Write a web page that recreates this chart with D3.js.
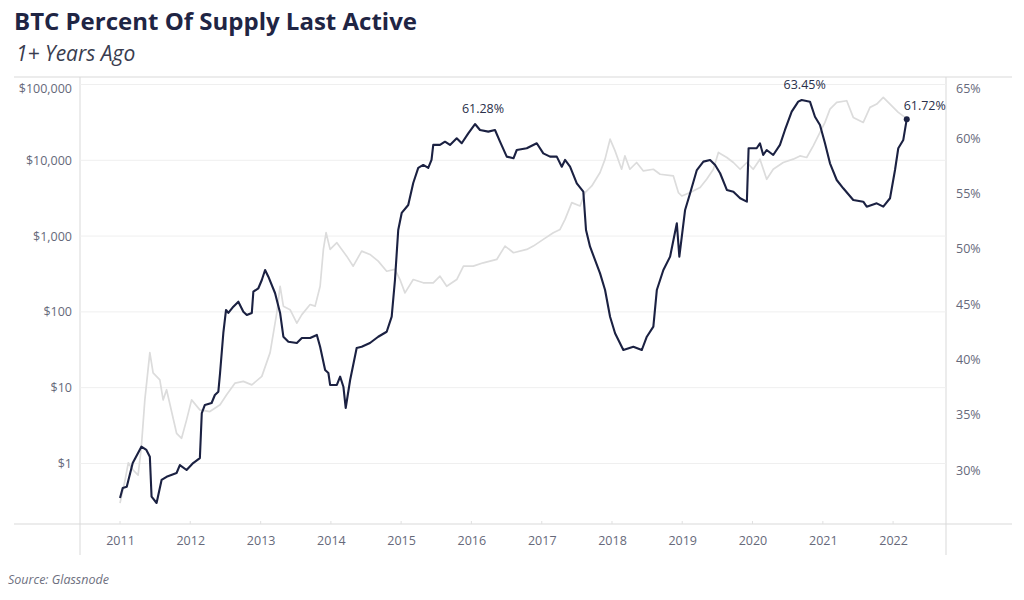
<!DOCTYPE html>
<html><head><meta charset="utf-8">
<script src="https://cdn.jsdelivr.net/npm/d3@7/dist/d3.min.js"></script>
<style>body{margin:0;background:#fff;} svg{display:block;}</style>
</head><body>
<svg id="c" width="1024" height="600"></svg>
<script>
// Percent of BTC supply last active 1+ years ago (%)
const supplyDates = ["2011-01-01","2011-01-15","2011-02-05","2011-03-08","2011-04-22","2011-05-18","2011-06-05","2011-06-14","2011-07-10","2011-08-05","2011-08-31","2011-10-22","2011-11-08","2011-12-13","2012-01-16","2012-02-20","2012-03-01","2012-03-17","2012-04-21","2012-05-08","2012-05-26","2012-06-04","2012-06-21","2012-07-05","2012-07-17","2012-08-12","2012-09-07","2012-10-03","2012-10-21","2012-11-16","2012-11-24","2012-12-20","2013-01-07","2013-01-24","2013-02-10","2013-03-17","2013-04-12","2013-04-29","2013-05-25","2013-07-08","2013-08-03","2013-09-15","2013-10-20","2013-11-06","2013-12-02","2013-12-19","2013-12-28","2014-02-01","2014-02-18","2014-03-07","2014-03-19","2014-04-11","2014-05-15","2014-06-10","2014-07-23","2014-09-04","2014-10-18","2014-11-13","2014-11-30","2014-12-17","2015-01-04","2015-02-07","2015-03-05","2015-03-31","2015-04-26","2015-05-22","2015-06-08","2015-06-17","2015-07-22","2015-08-17","2015-09-12","2015-10-17","2015-11-12","2015-12-16","2016-01-20","2016-02-15","2016-03-29","2016-05-03","2016-05-29","2016-07-03","2016-08-07","2016-08-24","2016-10-15","2016-12-06","2017-01-09","2017-02-13","2017-03-20","2017-04-15","2017-05-02","2017-05-28","2017-07-02","2017-08-05","2017-08-19","2017-09-09","2017-10-31","2017-11-26","2017-12-22","2018-01-17","2018-03-01","2018-04-22","2018-06-05","2018-07-01","2018-08-04","2018-08-22","2018-09-25","2018-10-30","2018-12-04","2018-12-17","2019-01-16","2019-02-11","2019-03-18","2019-04-21","2019-05-26","2019-06-21","2019-07-17","2019-08-21","2019-09-24","2019-10-29","2019-12-03","2019-12-12","2020-01-23","2020-02-09","2020-02-26","2020-03-15","2020-04-18","2020-05-23","2020-06-18","2020-07-23","2020-08-26","2020-09-13","2020-10-26","2020-11-21","2020-12-17","2021-01-12","2021-02-07","2021-03-14","2021-04-17","2021-06-08","2021-07-30","2021-08-17","2021-10-08","2021-11-11","2021-12-16","2022-01-11","2022-01-28","2022-02-23","2022-03-13"];
const supplyValues = [27.47,28.37,28.49,30.63,32.11,31.81,31.20,27.59,27.02,29.10,29.39,29.73,30.45,30.00,30.63,31.08,35.15,35.88,36.06,36.78,37.08,38.77,42.39,44.47,44.20,44.77,45.22,44.31,44.01,44.20,46.12,46.43,47.18,48.08,47.48,45.98,44.20,42.05,41.60,41.48,41.93,41.93,42.21,41.15,39.04,38.77,37.69,37.69,38.44,37.53,35.61,38.14,41.03,41.15,41.48,42.05,42.50,43.86,47.18,51.70,53.24,53.96,55.95,57.31,57.58,57.31,58.03,59.39,59.39,59.68,59.39,59.99,59.54,60.44,61.28,60.74,60.59,60.74,59.68,58.33,58.18,58.93,59.09,59.54,58.63,58.33,58.33,57.42,58.03,57.42,55.92,55.16,51.70,50.19,47.78,46.27,43.86,42.36,40.85,41.15,40.85,42.05,42.96,46.27,48.08,49.29,52.31,49.29,53.51,55.02,57.12,57.88,58.03,57.58,56.83,55.32,55.16,54.57,54.26,59.09,59.09,59.54,58.48,58.93,58.48,59.39,60.74,62.40,63.30,63.45,63.30,61.94,61.19,59.54,57.73,56.22,55.47,54.41,54.26,53.81,54.11,53.81,54.57,57.12,59.09,59.84,61.72];

// BTC price (USD, log axis)
const priceDates = ["2011-01-01","2011-01-27","2011-02-13","2011-03-10","2011-04-05","2011-04-22","2011-05-10","2011-06-05","2011-06-22","2011-07-27","2011-08-13","2011-08-31","2011-10-22","2011-11-17","2011-12-13","2012-01-08","2012-02-20","2012-04-12","2012-06-04","2012-07-08","2012-08-21","2012-10-03","2012-11-16","2013-01-07","2013-02-19","2013-03-26","2013-04-12","2013-04-29","2013-06-03","2013-07-08","2013-08-03","2013-09-15","2013-10-11","2013-11-06","2013-11-23","2013-12-07","2013-12-28","2014-02-01","2014-03-24","2014-04-27","2014-06-10","2014-07-23","2014-09-04","2014-10-18","2014-11-30","2014-12-26","2015-01-21","2015-03-05","2015-04-26","2015-06-17","2015-07-22","2015-08-26","2015-10-17","2015-11-21","2016-01-11","2016-03-03","2016-05-12","2016-06-24","2016-08-07","2016-10-15","2016-11-18","2017-01-09","2017-03-02","2017-04-06","2017-05-02","2017-06-06","2017-07-19","2017-08-14","2017-09-18","2017-10-31","2017-11-26","2017-12-22","2018-01-17","2018-02-20","2018-03-09","2018-04-04","2018-05-09","2018-06-13","2018-08-04","2018-09-08","2018-11-16","2018-12-12","2018-12-30","2019-02-11","2019-04-04","2019-05-08","2019-06-12","2019-07-08","2019-08-21","2019-09-24","2019-10-29","2019-12-03","2020-01-05","2020-02-09","2020-03-15","2020-04-18","2020-06-09","2020-07-31","2020-09-04","2020-10-09","2020-11-12","2020-12-17","2021-01-12","2021-02-07","2021-03-14","2021-05-05","2021-06-08","2021-07-30","2021-09-03","2021-10-08","2021-11-11","2021-12-16","2022-01-28","2022-03-04"];
const priceValues = [0.30,0.60,1.02,0.82,0.70,1.67,6.9,29,15.7,12.7,6.9,9.4,2.5,2.15,3.76,6.9,5.1,4.84,5.94,8.05,11.5,12.1,10.9,14.1,29,98,218,119,107,71,92,125,119,218,667,1109,667,818,544,401,634,573,467,344,363,267,178,267,242,242,296,218,267,401,401,444,492,738,603,667,738,904,1109,1225,1663,2767,2496,3750,4586,6900,10350,19000,13300,7620,11430,7620,9350,7240,7620,6550,6220,3750,3380,3750,4370,5620,7620,12700,10900,9350,7620,9350,7620,10350,5620,7620,9350,10350,11430,10900,15500,23300,31600,47400,58200,61100,36800,31600,49900,55200,67700,55200,42900,36800];

const yearTicks = [2011,2012,2013,2014,2015,2016,2017,2018,2019,2020,2021,2022];
const priceTicks = [1,10,100,1000,10000,100000];
const pctTicks = [30,35,40,45,50,55,60,65];
const peakLabels = [{date:"2016-01-20", value:61.28, text:"61.28%"},{date:"2020-09-13", value:63.45, text:"63.45%"},{date:"2022-03-13", value:61.72, text:"61.72%"}];

const parse = d3.timeParse("%Y-%m-%d");
const supply = supplyDates.map((d,i)=>({date:parse(d), v:supplyValues[i]}));
const price = priceDates.map((d,i)=>({date:parse(d), v:priceValues[i]}));

const svg = d3.select("#c");
const L = 80, R = 946, T = 77, B = 524;
const FONT = "'Open Sans', 'Noto Sans', sans-serif";

const x = d3.scaleTime().domain([parse("2010-06-07"), parse("2022-10-03")]).range([L, R]);
const yP = d3.scaleLog().domain([0.159, 125600]).range([B, T]);
const yS = d3.scaleLinear().domain([25.12, 65.53]).range([B, T]);

// Title
svg.append("text").attr("x",14).attr("y",30).attr("font-family",FONT).attr("font-weight",700)
  .attr("font-size",24).attr("fill","#1f2544").text("BTC Percent Of Supply Last Active");
svg.append("text").attr("x",16).attr("y",61).attr("font-family",FONT).attr("font-style","italic")
  .attr("font-size",21).attr("fill","#3a3d4f").text("1+ Years Ago");

// frame lines
const frame = svg.append("g").attr("stroke","#d9d9d9").attr("stroke-width",1);
frame.append("line").attr("x1",14).attr("x2",1012).attr("y1",T).attr("y2",T);
frame.append("line").attr("x1",14).attr("x2",1012).attr("y1",B).attr("y2",B);
frame.append("line").attr("x1",L).attr("x2",L).attr("y1",T).attr("y2",555);
frame.append("line").attr("x1",R).attr("x2",R).attr("y1",T).attr("y2",555);

// gridlines (left axis)
svg.append("g").selectAll("line").data(priceTicks).join("line")
  .attr("x1",L).attr("x2",R).attr("y1",d=>yP(d)).attr("y2",d=>yP(d))
  .attr("stroke","#efefef").attr("stroke-width",1);

// left axis
const leftAxis = d3.axisLeft(yP).tickValues(priceTicks).tickSize(0).tickPadding(8)
  .tickFormat(d=>"$"+d3.format(",")(d));
const gl = svg.append("g").attr("transform",`translate(${L},0)`).call(leftAxis);
gl.select(".domain").remove();
gl.selectAll("text").attr("font-family",FONT).attr("font-size",12.5).attr("fill","#66697a")
  .attr("dy", d=> d===100000 ? "0.65em" : "0.32em");

// right axis
const rightAxis = d3.axisRight(yS).tickValues(pctTicks).tickSize(0).tickPadding(10).tickFormat(d=>d+"%");
const gr = svg.append("g").attr("transform",`translate(${R},0)`).call(rightAxis);
gr.select(".domain").remove();
gr.selectAll("text").attr("font-family",FONT).attr("font-size",12.5).attr("fill","#66697a")
  .attr("dy", d=> d===65 ? "0.75em" : "0.32em");

// x axis
const xAxis = d3.axisBottom(x).tickValues(yearTicks.map(y=>new Date(y,0,1))).tickSize(0).tickPadding(12)
  .tickFormat(d3.timeFormat("%Y"));
const gx = svg.append("g").attr("transform",`translate(0,${B})`).call(xAxis);
gx.select(".domain").remove();
gx.selectAll("text").attr("font-family",FONT).attr("font-size",12.5).attr("fill","#66697a");
// small ticks
svg.append("g").selectAll("line").data(yearTicks).join("line")
  .attr("x1",d=>x(new Date(d,0,1))).attr("x2",d=>x(new Date(d,0,1))).attr("y1",B-3).attr("y2",B)
  .attr("stroke","#e0e0e0");

// price line
svg.append("path").datum(price).attr("fill","none").attr("stroke","#dcdcdc").attr("stroke-width",1.7)
  .attr("stroke-linejoin","round")
  .attr("d", d3.line().x(d=>x(d.date)).y(d=>yP(d.v)));

// supply line
svg.append("path").datum(supply).attr("fill","none").attr("stroke","#1b2142").attr("stroke-width",2.1)
  .attr("stroke-linejoin","round")
  .attr("d", d3.line().x(d=>x(d.date)).y(d=>yS(d.v)));

// end dot
const last = supply[supply.length-1];
svg.append("circle").attr("cx",x(last.date)).attr("cy",yS(last.v)).attr("r",3).attr("fill","#1b2142");

// peak labels
svg.append("g").selectAll("text").data(peakLabels).join("text")
  .attr("x",(d,i)=> x(parse(d.date)) + (i===2 ? 18 : (i===0 ? 8 : 3)))
  .attr("y",d=> yS(d.value) - (d.value===61.72 ? 9 : 11))
  .attr("text-anchor","middle").attr("font-family",FONT).attr("font-size",12.5).attr("fill","#2a2f4a")
  .text(d=>d.text);

// source
svg.append("text").attr("x",8).attr("y",584).attr("font-family",FONT).attr("font-style","italic")
  .attr("font-size",12.5).attr("fill","#6e7080").text("Source: Glassnode");
</script>
</body></html>
